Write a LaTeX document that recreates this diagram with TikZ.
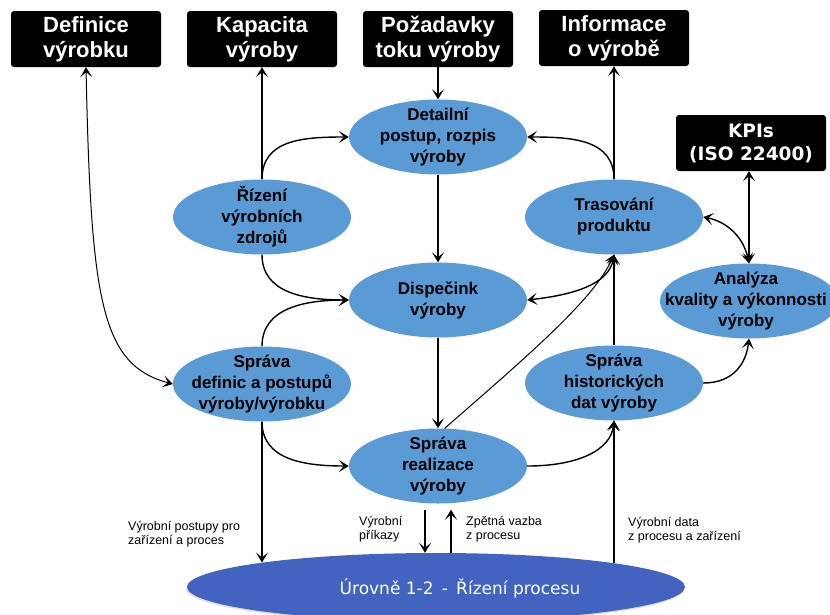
\documentclass[tikz,border=0pt]{standalone}
\usepackage{fontspec}
\setmainfont{Liberation Sans}
\newfontfamily\dejavu{DejaVu Sans}
\usetikzlibrary{shapes.geometric,arrows.meta,calc,shadows}

\definecolor{procblue}{RGB}{91,155,213}
\definecolor{levelblue}{RGB}{66,99,192}

\begin{document}
\begin{tikzpicture}[x=1pt,y=-1pt,
  >={Stealth[length=10pt,width=12pt,inset=5pt]},
  blackbox/.style={fill=black, rounded corners=3pt, minimum width=150pt,
    minimum height=56pt, inner sep=0pt, text=white, align=center,
    font=\bfseries\fontsize{22}{25}\selectfont},
  proc/.style={ellipse, fill=procblue, minimum width=178pt,
    minimum height=75pt, inner sep=0pt},
  proctext/.style={align=center, inner sep=0pt,
    font=\bfseries\fontsize{17}{21}\selectfont},
  note/.style={align=left, anchor=west, inner sep=0pt,
    font=\fontsize{12.5}{14}\selectfont},
  flow/.style={line width=1.4pt, ->},
  flowboth/.style={line width=1.4pt, <->},
  thinflow/.style={line width=1pt, ->},
  thinboth/.style={line width=1pt, <->}
]
\useasboundingbox (0,0) rectangle (830,614);

% information boxes
\node[blackbox] (def)   at (86,39)  {Definice\\výrobku};
\node[blackbox] (kap)   at (262,39) {Kapacita\\výroby};
\node[blackbox] (pozad) at (438,39) {Požadavky\\toku výroby};
\node[blackbox] (info)  at (614,38) {Informace\\o výrobě};
\node[blackbox, font=\dejavu\bfseries\fontsize{18.5}{23}\selectfont]
      (kpi) at (751,143) {KPIs\\(ISO 22400)};

% activities
\node[proc, label={[proctext]center:{Detailní\\postup, rozpis\\výroby}}] (det) at (438,137) {};
\node[proc, label={[proctext]center:{Řízení\\výrobních\\zdrojů}}] (riz) at (262,217) {};
\node[proc, label={[proctext]center:{Trasování\\produktu}}] (tras) at (614,217) {};
\node[proc, label={[proctext]center:{Dispečink\\výroby}}] (disp) at (438,300) {};
\node[proc, label={[proctext, xshift=-3pt]center:{Analýza\\kvality a výkonnosti\\výroby}}] (ana) at (749,301) {};
\node[proc, label={[proctext]center:{Správa\\definic a postupů\\výroby/výrobku}}] (sdef) at (262,384) {};
\node[proc, label={[proctext]center:{Správa\\historických\\dat výroby}}] (shist) at (614,383) {};
\node[proc, label={[proctext]center:{Správa\\realizace\\výroby}}] (real) at (438,466) {};

% process level
\node[ellipse, fill=levelblue, minimum width=498pt, minimum height=68pt,
      inner sep=0pt, drop shadow={shadow xshift=-1pt, shadow yshift=-1.5pt, opacity=0.25}]
      (base) at (436,587) {};
\node[text=white, font=\dejavu\fontsize{17}{20}\selectfont, inner sep=0pt]
      (basetext) at (460,588) {Úrovně 1-2 \,-\, Řízení procesu};

% connectors
\draw[thinboth] (def.south) .. controls +(5,233) and +(-72,-19) .. (sdef.west);
\draw[flow] (riz.north) -- (kap.south);
\draw[flow] (riz.north) .. controls +(0,-40) and +(-45,0) .. (det.west);
\draw[flow] (pozad.south) -- (det.north);
\draw[flow] (tras.north) -- (info.south);
\draw[flow] (tras.north) .. controls +(0,-40) and +(45,0) .. (det.east);
\draw[flow] (det.south) -- (disp.north);
\draw[flow] (riz.south) .. controls +(0,38) and +(-45,0) .. (disp.west);
\draw[flow] (sdef.north) .. controls +(0,-38) and +(-45,0) .. (disp.west);
\draw[flow] (disp.south) -- (real.north);
\draw[flowboth] (disp.east) .. controls +(45,-5) and +(-5,30) .. (tras.south);
\draw[thinflow] (real.80) .. controls +(80,-70) and +(-20,45) .. (tras.south);
\draw[flow] (shist.north) -- (tras.south);
\draw[flow] (sdef.south) .. controls +(0,38) and +(-45,0) .. (real.west);
\draw[flow] (sdef.south) -- (sdef.south |- base.172);
\draw[flow] (real.east) .. controls +(50,0) and +(-3,30) .. (shist.south);
\draw[flow] (shist.east) .. controls +(30,0) and +(-3,25) .. (ana.south);
\draw[flowboth] (tras.east) .. controls +(25,5) and +(-5,-25) .. (ana.north);
\draw[flowboth] (ana.north |- kpi.south) -- (ana.north);

% commands and feedback to the process level
\coordinate (cmd) at ($(real.south)+(-13,6)$);
\coordinate (fbk) at ($(real.south)+(13,6)$);
\draw[flow] (cmd) -- (cmd |- base.north);
\draw[flow] (fbk |- base.north) -- (fbk);
\draw[flow] (shist.south |- base.8) -- (shist.south);

% labels
\node[note] (lblproc) at (128,534) {Výrobní postupy pro\\zařízení a proces};
\node[note] (lblcmd)  at (359,529) {Výrobní\\příkazy};
\node[note] (lblfbk)  at (466,529) {Zpětná vazba\\z procesu};
\node[note] (lbldata) at (628,530) {Výrobní data\\z procesu a zařízení};
\end{tikzpicture}
\end{document}
